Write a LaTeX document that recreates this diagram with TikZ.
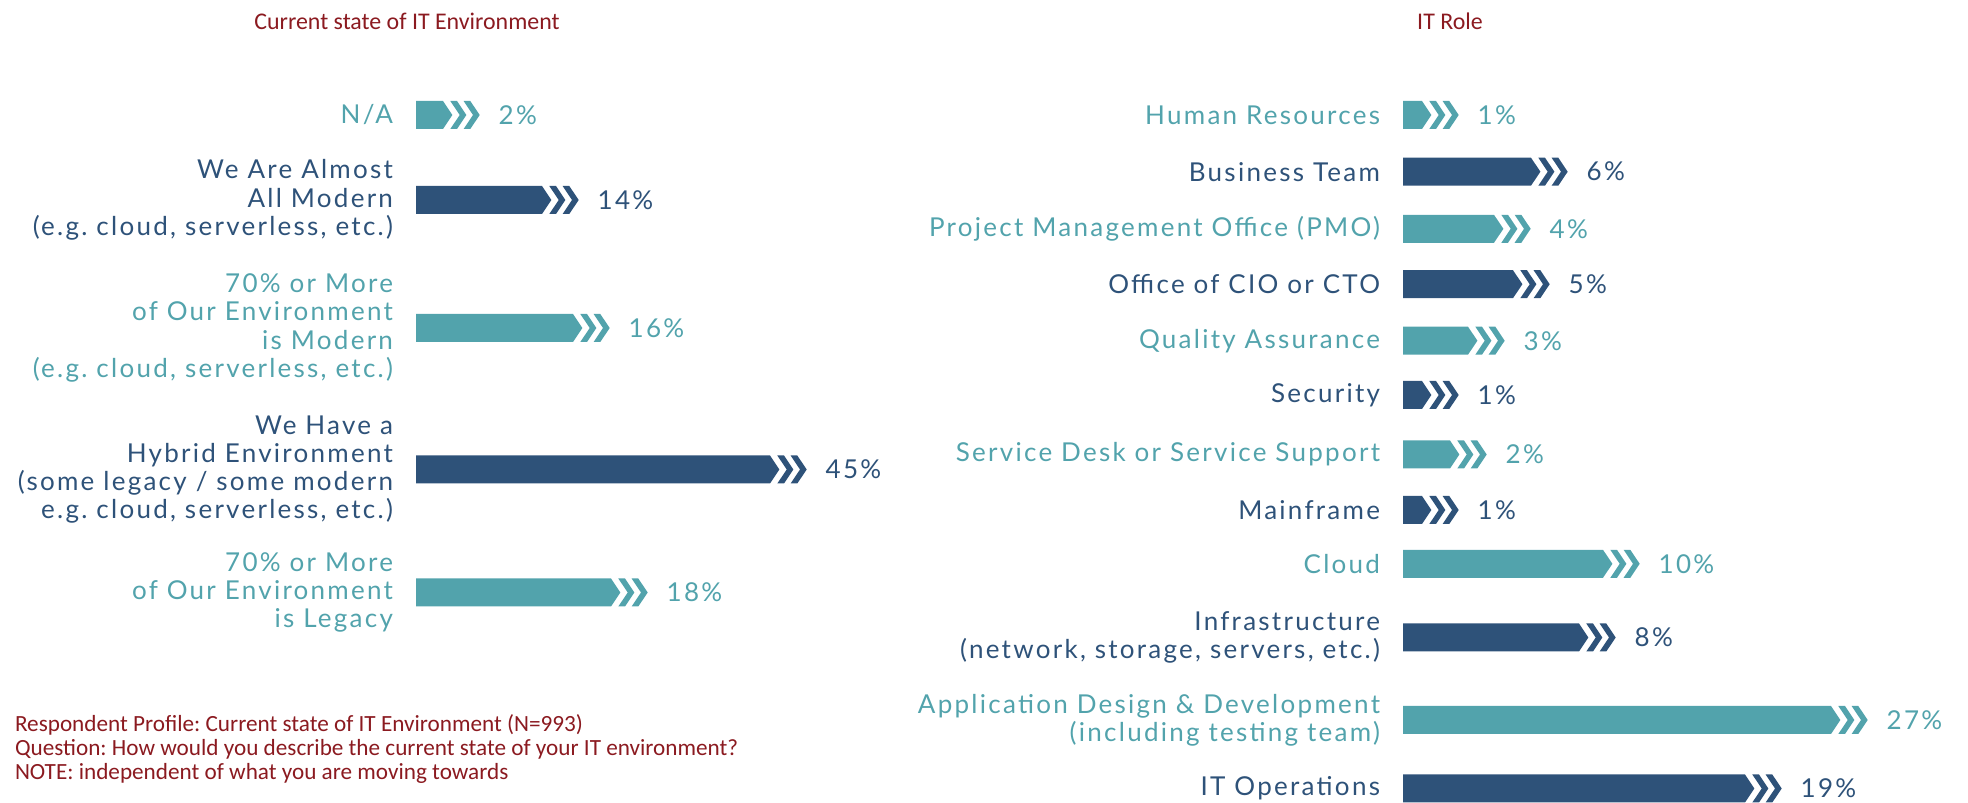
\documentclass[tikz,border=0pt]{standalone}
\usepackage{fontspec}
\setmainfont[LetterSpace=8.7]{Lato}
\newfontfamily\notefont{Carlito}
\usetikzlibrary{positioning}
\frenchspacing

\definecolor{itteal}{RGB}{82,163,172}
\definecolor{itnavy}{RGB}{46,82,121}
\definecolor{itred}{RGB}{139,26,32}

\tikzset{
    every node/.style={inner sep=0pt, outer sep=0pt}
}
\tikzset{
    lbl/.style={align=right, font=\fontsize{7.4}{8.05}\selectfont},
    val/.style={font=\fontsize{7.4}{8.05}\selectfont},
    note/.style={text=itred, font=\notefont\fontsize{6.6}{6.9}\selectfont},
    heading/.style={text=itred, font=\notefont\fontsize{6.8}{8}\selectfont}
}

% bar with three chevrons: name of tip, start, body length, colour
\newcommand{\chevbar}[4]{%
  \begin{scope}[shift={(#2)}]
    \fill[#4] (0,-0.14) -- (#3,-0.14) -- ++(0.094,0.14) -- (#3,0.14) -- (0,0.14) -- cycle;
    \foreach \c in {0.073,0.206}
      \fill[#4] ({#3+\c},-0.14) -- ++(0.067,0) -- ++(0.094,0.14) -- ++(-0.094,0.14)
        -- ++(-0.067,0) -- ++(0.094,-0.14) -- cycle;
    \coordinate (#1) at ({#3+0.367},0);
  \end{scope}%
}

\begin{document}
\begin{tikzpicture}
  \useasboundingbox (0,0) rectangle (19.68,-8.03);

  \node (envtitle) [heading] at (4.07,-0.21) {Current state of IT Environment};
  \node (roletitle) [heading] at (14.50,-0.21) {IT Role};

  % current state of IT environment
  \coordinate (na-s) at (4.16,-1.15);
  \coordinate (mod-s) at (4.16,-2.00);
  \coordinate (most-s) at (4.16,-3.28);
  \coordinate (hyb-s) at (4.16,-4.695);
  \coordinate (leg-s) at (4.16,-5.925);

  \chevbar{na}{na-s}{0.27}{itteal}
  \chevbar{mod}{mod-s}{1.26}{itnavy}
  \chevbar{most}{most-s}{1.57}{itteal}
  \chevbar{hyb}{hyb-s}{3.54}{itnavy}
  \chevbar{leg}{leg-s}{1.95}{itteal}

  \node (na-l) [lbl, text=itteal, left=0.23cm of na-s] {N/A};
  \node (mod-l) [lbl, text=itnavy, left=0.23cm of mod-s] {We Are Almost\\All Modern\\(e.g. cloud, serverless, etc.)};
  \node (most-l) [lbl, text=itteal, left=0.23cm of most-s] {70\% or More\\of Our Environment\\is Modern\\(e.g. cloud, serverless, etc.)};
  \node (hyb-l) [lbl, text=itnavy, left=0.23cm of hyb-s] {We Have a\\Hybrid Environment\\(some legacy / some modern\\e.g. cloud, serverless, etc.)};
  \node (leg-l) [lbl, text=itteal, left=0.23cm of leg-s] {70\% or More\\of Our Environment\\is Legacy};

  \node (na-v) [val, text=itteal, right=0.19cm of na] {2\%};
  \node (mod-v) [val, text=itnavy, right=0.19cm of mod] {14\%};
  \node (most-v) [val, text=itteal, right=0.19cm of most] {16\%};
  \node (hyb-v) [val, text=itnavy, right=0.19cm of hyb] {45\%};
  \node (leg-v) [val, text=itteal, right=0.19cm of leg] {18\%};

  % IT role
  \coordinate (hr-s) at (14.03,-1.15);
  \coordinate (bt-s) at (14.03,-1.717);
  \coordinate (pmo-s) at (14.03,-2.288);
  \coordinate (cio-s) at (14.03,-2.842);
  \coordinate (qa-s) at (14.03,-3.407);
  \coordinate (sec-s) at (14.03,-3.95);
  \coordinate (sd-s) at (14.03,-4.545);
  \coordinate (mf-s) at (14.03,-5.10);
  \coordinate (cl-s) at (14.03,-5.638);
  \coordinate (inf-s) at (14.03,-6.375);
  \coordinate (app-s) at (14.03,-7.20);
  \coordinate (ops-s) at (14.03,-7.885);

  \chevbar{hr}{hr-s}{0.19}{itteal}
  \chevbar{bt}{bt-s}{1.28}{itnavy}
  \chevbar{pmo}{pmo-s}{0.91}{itteal}
  \chevbar{cio}{cio-s}{1.10}{itnavy}
  \chevbar{qa}{qa-s}{0.65}{itteal}
  \chevbar{sec}{sec-s}{0.19}{itnavy}
  \chevbar{sd}{sd-s}{0.47}{itteal}
  \chevbar{mf}{mf-s}{0.19}{itnavy}
  \chevbar{cl}{cl-s}{2.00}{itteal}
  \chevbar{inf}{inf-s}{1.76}{itnavy}
  \chevbar{app}{app-s}{4.28}{itteal}
  \chevbar{ops}{ops-s}{3.42}{itnavy}

  \node (hr-l) [lbl, text=itteal, left=0.23cm of hr-s] {Human Resources};
  \node (bt-l) [lbl, text=itnavy, left=0.23cm of bt-s] {Business Team};
  \node (pmo-l) [lbl, text=itteal, left=0.23cm of pmo-s] {Project Management Office (PMO)};
  \node (cio-l) [lbl, text=itnavy, left=0.23cm of cio-s] {Office of CIO or CTO};
  \node (qa-l) [lbl, text=itteal, left=0.23cm of qa-s] {Quality Assurance};
  \node (sec-l) [lbl, text=itnavy, left=0.23cm of sec-s] {Security};
  \node (sd-l) [lbl, text=itteal, left=0.23cm of sd-s] {Service Desk or Service Support};
  \node (mf-l) [lbl, text=itnavy, left=0.23cm of mf-s] {Mainframe};
  \node (cl-l) [lbl, text=itteal, left=0.23cm of cl-s] {Cloud};
  \node (inf-l) [lbl, text=itnavy, left=0.23cm of inf-s] {Infrastructure\\(network, storage, servers, etc.)};
  \node (app-l) [lbl, text=itteal, left=0.23cm of app-s] {Application Design \& Development\\(including testing team)};
  \node (ops-l) [lbl, text=itnavy, left=0.23cm of ops-s] {IT Operations};

  \node (hr-v) [val, text=itteal, right=0.19cm of hr] {1\%};
  \node (bt-v) [val, text=itnavy, right=0.19cm of bt] {6\%};
  \node (pmo-v) [val, text=itteal, right=0.19cm of pmo] {4\%};
  \node (cio-v) [val, text=itnavy, right=0.19cm of cio] {5\%};
  \node (qa-v) [val, text=itteal, right=0.19cm of qa] {3\%};
  \node (sec-v) [val, text=itnavy, right=0.19cm of sec] {1\%};
  \node (sd-v) [val, text=itteal, right=0.19cm of sd] {2\%};
  \node (mf-v) [val, text=itnavy, right=0.19cm of mf] {1\%};
  \node (cl-v) [val, text=itteal, right=0.19cm of cl] {10\%};
  \node (inf-v) [val, text=itnavy, right=0.19cm of inf] {8\%};
  \node (app-v) [val, text=itteal, right=0.19cm of app] {27\%};
  \node (ops-v) [val, text=itnavy, right=0.19cm of ops] {19\%};

  \node (note) [note, align=left, anchor=west] at (0.15,-7.49) {Respondent Profile: Current state of IT Environment (N=993)\\Question: How would you describe the current state of your IT environment?\\NOTE: independent of what you are moving towards};
\end{tikzpicture}
\end{document}
